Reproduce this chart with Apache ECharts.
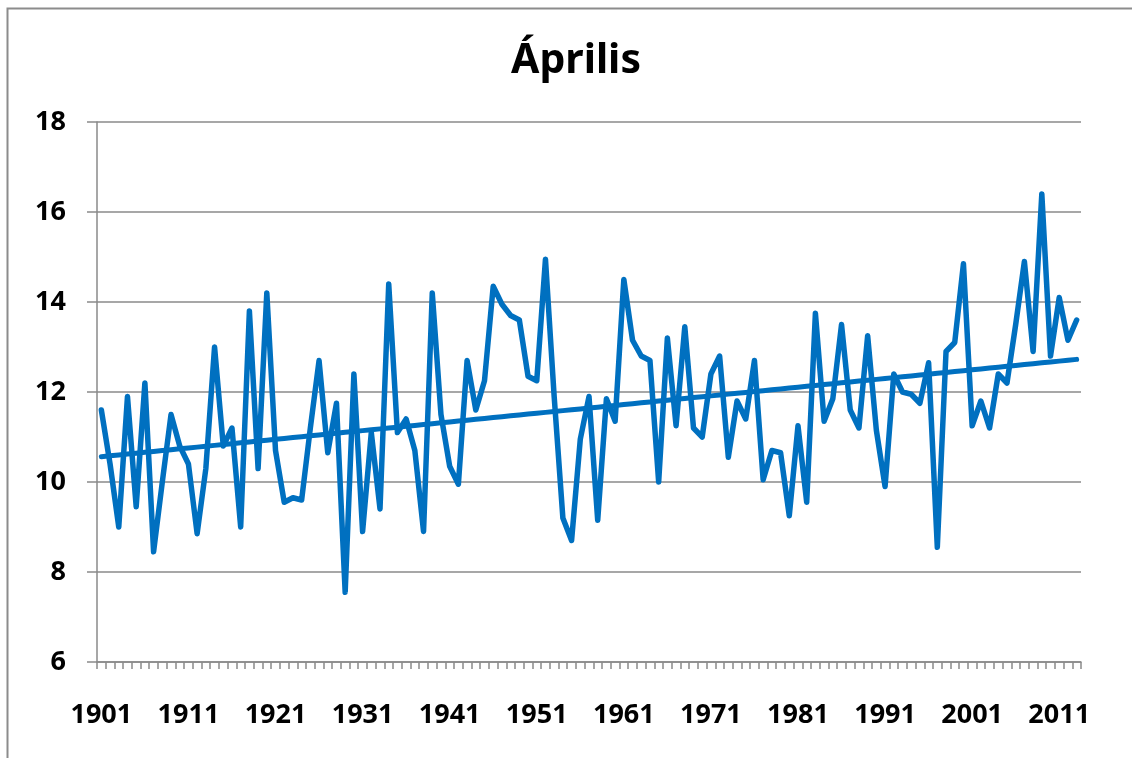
<!DOCTYPE html>
<html>
<head>
<meta charset="utf-8">
<title>Április</title>
<script src="https://cdn.jsdelivr.net/npm/echarts@6/dist/echarts.min.js"></script>
<style>
  html, body { margin: 0; padding: 0; background: #ffffff; }
  #chart { width: 1132px; height: 758px; }
</style>
</head>
<body>
<div id="chart"></div>
<script>
// April mean temperature by year
const years = [];
for (let y = 1901; y <= 2013; y++) years.push(String(y));

const aprilTemp = [
  11.6, 10.4, 9.0, 11.9, 9.45, 12.2, 8.45, 10.0, 11.5, 10.8,     // 1901-1910
  10.4, 8.85, 10.3, 13.0, 10.8, 11.2, 9.0, 13.8, 10.3, 14.2,     // 1911-1920
  10.7, 9.55, 9.65, 9.6, 11.2, 12.7, 10.65, 11.75, 7.55, 12.4,   // 1921-1930
  8.9, 11.1, 9.4, 14.4, 11.1, 11.4, 10.7, 8.9, 14.2, 11.5,       // 1931-1940
  10.35, 9.95, 12.7, 11.6, 12.25, 14.35, 13.95, 13.7, 13.6, 12.35, // 1941-1950
  12.25, 14.95, 11.9, 9.2, 8.7, 10.95, 11.9, 9.15, 11.85, 11.35, // 1951-1960
  14.5, 13.15, 12.8, 12.7, 10.0, 13.2, 11.25, 13.45, 11.2, 11.0, // 1961-1970
  12.4, 12.8, 10.55, 11.8, 11.4, 12.7, 10.05, 10.7, 10.65, 9.25, // 1971-1980
  11.25, 9.55, 13.75, 11.35, 11.85, 13.5, 11.6, 11.2, 13.25, 11.15, // 1981-1990
  9.9, 12.4, 12.0, 11.95, 11.75, 12.65, 8.55, 12.9, 13.1, 14.85, // 1991-2000
  11.25, 11.8, 11.2, 12.4, 12.2, 13.5, 14.9, 12.9, 16.4, 12.8,   // 2001-2010
  14.1, 13.15, 13.6                                              // 2011-2013
];

const yTicks = [6, 8, 10, 12, 14, 16, 18];

// Least-squares linear trend over the series
function linearTrend(values) {
  const n = values.length;
  let sx = 0, sy = 0, sxx = 0, sxy = 0;
  values.forEach((v, i) => { sx += i; sy += v; sxx += i * i; sxy += i * v; });
  const slope = (n * sxy - sx * sy) / (n * sxx - sx * sx);
  const icpt = (sy - slope * sx) / n;
  return values.map((_, i) => +(icpt + slope * i).toFixed(4));
}
const trend = linearTrend(aprilTemp);

const BLUE = '#0070C0';
const GRID = '#8a8a8a';
const FONT = '"Noto Sans", "Open Sans", sans-serif';

const chart = echarts.init(document.getElementById('chart'), null, { renderer: 'canvas' });
chart.setOption({
  animation: false,
  backgroundColor: '#ffffff',
  title: {
    text: 'Április',
    left: 571,
    top: 36,
    textAlign: 'center',
    textStyle: { fontFamily: FONT, fontWeight: 'bold', fontSize: 41, color: '#000000' }
  },
  graphic: [{
    type: 'rect',
    shape: { x: 7.5, y: 8.5, width: 1140, height: 800 },
    style: { fill: 'none', stroke: '#8c8c8c', lineWidth: 2 },
    silent: true,
    z: -1
  }],
  grid: { left: 97, right: 51, top: 122, bottom: 96, containLabel: false },
  xAxis: {
    type: 'category',
    data: years,
    boundaryGap: true,
    axisLine: { lineStyle: { color: GRID, width: 1.5 } },
    axisTick: { show: true, interval: 0, length: 7, lineStyle: { color: GRID, width: 1.5 } },
    axisLabel: {
      interval: 9,
      margin: 40,
      fontFamily: FONT, fontWeight: 'bold', fontSize: 27, color: '#000000'
    },
    splitLine: { show: false }
  },
  yAxis: {
    type: 'value',
    min: yTicks[0],
    max: yTicks[yTicks.length - 1],
    interval: 2,
    axisLine: { show: true, lineStyle: { color: GRID, width: 1.5 } },
    axisTick: { show: true, length: 10, lineStyle: { color: GRID, width: 1.5 } },
    axisLabel: {
      margin: 31,
      fontFamily: FONT, fontWeight: 'bold', fontSize: 27, color: '#000000'
    },
    splitLine: { show: true, lineStyle: { color: GRID, width: 1.5 } }
  },
  series: [
    {
      name: 'Április',
      type: 'line',
      data: aprilTemp,
      showSymbol: false,
      symbol: 'none',
      lineStyle: { color: BLUE, width: 5.5, join: 'round', cap: 'round' },
      z: 3
    },
    {
      name: 'Trend',
      type: 'line',
      data: trend,
      showSymbol: false,
      symbol: 'none',
      lineStyle: { color: BLUE, width: 5, cap: 'round' },
      z: 4
    }
  ]
});
</script>
</body>
</html>
